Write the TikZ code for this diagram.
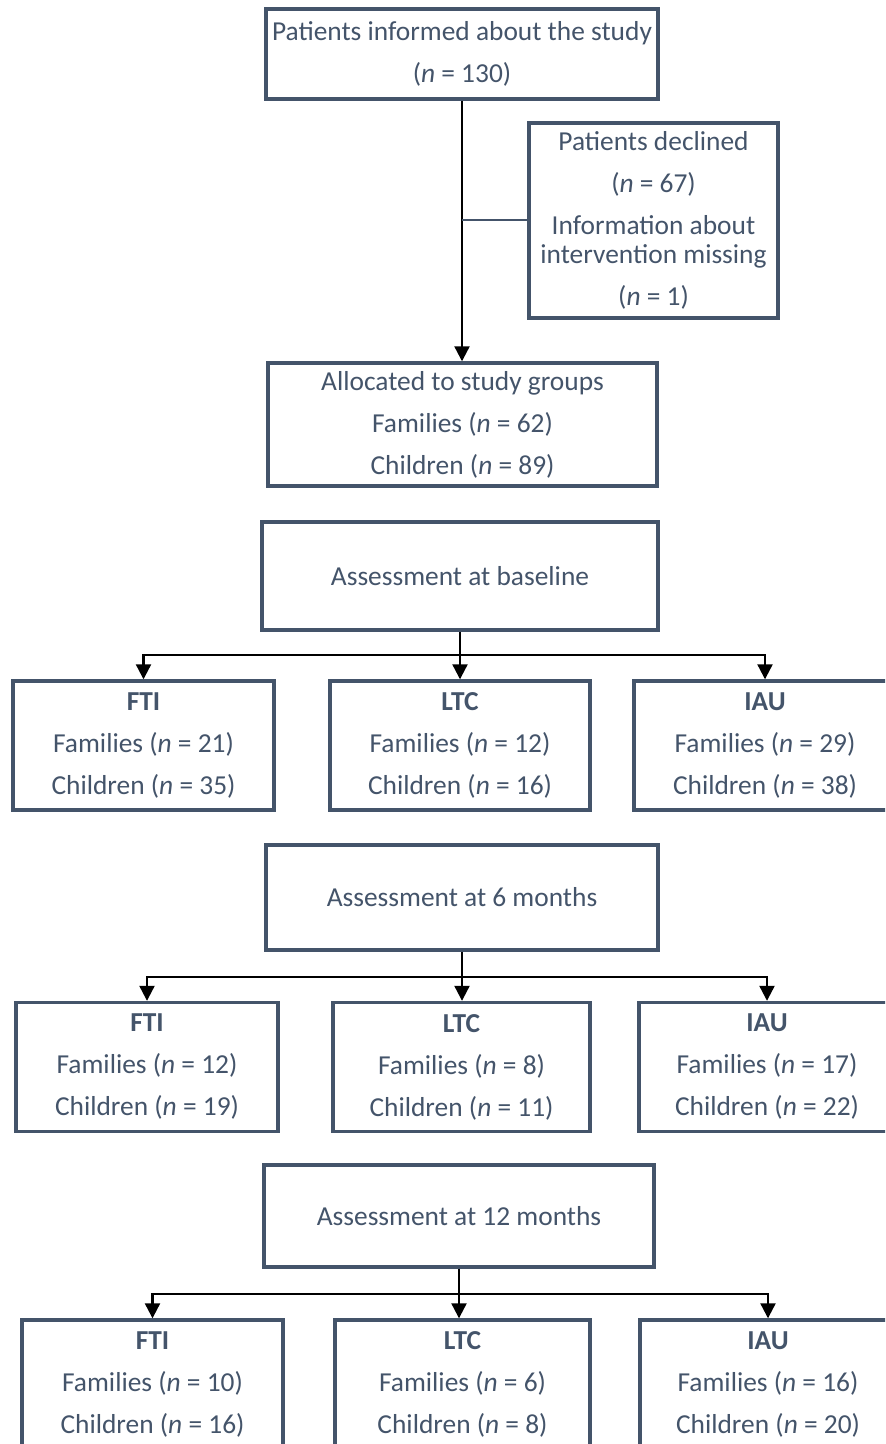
\documentclass[tikz,border=0pt]{standalone}
\usepackage{fontspec}
\setmainfont{Carlito}
\usetikzlibrary{arrows.meta}
\definecolor{slate}{HTML}{44546A}
\newcommand{\nn}{\textit{n}}

\begin{document}
\begin{tikzpicture}[x=0.5pt,y=-0.5pt,
  box/.style={draw=slate,line width=1.7pt,text=slate,align=center,inner sep=0pt,
    font={\fontsize{13.7}{21}\selectfont}},
  arr/.style={black,line width=1.1pt,-{Triangle[length=7.5pt,width=7.5pt]}},
  joint/.style={slate,line width=1pt}]
\clip (0,0) rectangle (885,1444);
% recruitment
\node[box,minimum width=196pt,minimum height=45pt] (info) at (462,54)
  {Patients informed about the study\\(\nn{} = 130)};
\node[box,minimum width=124.5pt,minimum height=97.5pt] (declined) at (653.5,220.5)
  {Patients declined\\(\nn{} = 67)\\Information about\\[-6.5pt]intervention missing\\(\nn{} = 1)};
\node[box,minimum width=194.5pt,minimum height=61.5pt] (alloc) at (462.5,424.5)
  {Allocated to study groups\\Families (\nn{} = 62)\\Children (\nn{} = 89)};
\draw[arr] (info.south) -- (info.south |- alloc.north);
\draw[joint] (declined.west) -- (declined.west -| info.south);
% baseline
\node[box,minimum width=198pt,minimum height=54pt] (base) at (460,576) {Assessment at baseline};
\node[box,minimum width=130.5pt,minimum height=64.5pt] (fti1) at (143.5,745.5)
  {\textbf{FTI}\\Families (\nn{} = 21)\\Children (\nn{} = 35)};
\node[box,minimum width=130pt,minimum height=64.5pt] (ltc1) at (460,745.5)
  {\textbf{LTC}\\Families (\nn{} = 12)\\Children (\nn{} = 16)};
\node[box,minimum width=131pt,minimum height=64.5pt] (iau1) at (765,745.5)
  {\textbf{IAU}\\Families (\nn{} = 29)\\Children (\nn{} = 38)};
\coordinate (j1) at (460,655);
\draw[arr] (base.south) -- (base.south |- ltc1.north);
\draw[arr] (j1) -| (fti1);
\draw[arr] (j1) -| (iau1);
% 6 months
\node[box,minimum width=196pt,minimum height=52.5pt] (six) at (462,897.5) {Assessment at 6 months};
\node[box,minimum width=131pt,minimum height=64.5pt] (fti2) at (147,1067)
  {\textbf{FTI}\\Families (\nn{} = 12)\\Children (\nn{} = 19)};
\node[box,minimum width=128.5pt,minimum height=64.5pt] (ltc2) at (461.5,1067)
  {\textbf{LTC}\\Families (\nn{} = 8)\\Children (\nn{} = 11)};
\node[box,minimum width=128pt,minimum height=64.5pt] (iau2) at (767,1067)
  {\textbf{IAU}\\Families (\nn{} = 17)\\Children (\nn{} = 22)};
\coordinate (j2) at (462,977);
\draw[arr] (six.south) -- (six.south |- ltc2.north);
\draw[arr] (j2) -| (fti2);
\draw[arr] (j2) -| (iau2);
% 12 months
\node[box,minimum width=195pt,minimum height=51pt] (twelve) at (459,1216) {Assessment at 12 months};
\node[box,minimum width=130.5pt,minimum height=64.5pt] (fti3) at (152.5,1384.5)
  {\textbf{FTI}\\Families (\nn{} = 10)\\Children (\nn{} = 16)};
\node[box,minimum width=127.5pt,minimum height=64.5pt] (ltc3) at (462.5,1384.5)
  {\textbf{LTC}\\Families (\nn{} = 6)\\Children (\nn{} = 8)};
\node[box,minimum width=128pt,minimum height=64.5pt] (iau3) at (768,1384.5)
  {\textbf{IAU}\\Families (\nn{} = 16)\\Children (\nn{} = 20)};
\coordinate (j3) at (459,1294);
\draw[arr] (twelve.south) -- (twelve.south |- ltc3.north);
\draw[arr] (j3) -| (fti3);
\draw[arr] (j3) -| (iau3);
\end{tikzpicture}
\end{document}
